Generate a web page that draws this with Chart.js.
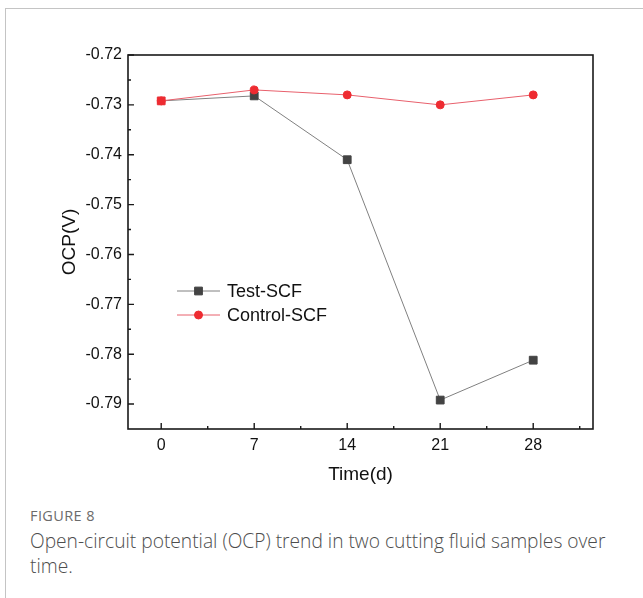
<!DOCTYPE html>
<html>
<head>
<meta charset="utf-8">
<script src="https://cdn.jsdelivr.net/npm/chart.js@4/dist/chart.umd.min.js"></script>
<style>
  html, body { margin: 0; padding: 0; background: #fff; }
  body { width: 643px; height: 598px; position: relative; overflow: hidden; }
  .frame { position: absolute; left: 5px; top: 8px; width: 700px; height: 700px;
           border-top: 1px solid #c4c4c4; border-left: 1px solid #c4c4c4; }
  #wrap { position: absolute; left: 0; top: 0; width: 643px; height: 490px; }
  .figno { position: absolute; left: 30px; top: 506px; font-family: "Open Sans", sans-serif;
           font-size: 14.5px; color: #6b6b6b; letter-spacing: 0.4px; }
  .caption { position: absolute; left: 30px; top: 528px; width: 592px;
             font-family: "Open Sans", sans-serif; font-weight: 300; font-size: 19.2px; line-height: 25px; color: #4d4d4d; }
</style>
</head>
<body>
<div class="frame"></div>
<div id="wrap"><canvas id="chart"></canvas></div>
<div class="figno">FIGURE 8</div>
<div class="caption">Open-circuit potential (OCP) trend in two cutting fluid samples over time.</div>

<script>
// Sampling days and open-circuit potential readings (V)
const days = [0, 7, 14, 21, 28];
const testSCF = [-0.7292, -0.7282, -0.7410, -0.7892, -0.7812];
const controlSCF = [-0.7292, -0.7270, -0.7280, -0.7300, -0.7280];

// Axis tick values
const xTickValues = [0, 7, 14, 21, 28];
const xMinorValues = [3.5, 10.5, 17.5, 24.5, 31.5];
const yTickValues = [-0.72, -0.73, -0.74, -0.75, -0.76, -0.77, -0.78, -0.79];
const yMinorValues = [-0.725, -0.735, -0.745, -0.755, -0.765, -0.775, -0.785];

const FONT = '"Liberation Sans", Arial, sans-serif';
const toPoints = (ys) => days.map((d, i) => ({ x: d, y: ys[i] }));

// Closed frame with inward major/minor ticks
const framePlugin = {
  id: 'frameTicks',
  afterDatasetsDraw(chart) {
    const { ctx, chartArea: a, scales: { x, y } } = chart;
    ctx.save();
    ctx.strokeStyle = '#1a1a1a';
    ctx.lineWidth = 1.6;
    ctx.strokeRect(a.left, a.top, a.right - a.left, a.bottom - a.top);
    ctx.lineWidth = 1.4;
    ctx.beginPath();
    xTickValues.forEach(v => { const px = x.getPixelForValue(v); ctx.moveTo(px, a.bottom); ctx.lineTo(px, a.bottom - 6); });
    xMinorValues.forEach(v => { const px = x.getPixelForValue(v); ctx.moveTo(px, a.bottom); ctx.lineTo(px, a.bottom - 3); });
    yTickValues.forEach(v => { const py = y.getPixelForValue(v); ctx.moveTo(a.left, py); ctx.lineTo(a.left + 6, py); });
    yMinorValues.forEach(v => { const py = y.getPixelForValue(v); ctx.moveTo(a.left, py); ctx.lineTo(a.left + 3, py); });
    ctx.stroke();
    ctx.restore();
  }
};

// Legend drawn inside the plot area
const innerLegend = {
  id: 'innerLegend',
  afterDraw(chart, args, opts) {
    const { ctx } = chart;
    ctx.save();
    chart.data.datasets.forEach((ds, i) => {
      const yy = opts.y + i * opts.gap;
      ctx.strokeStyle = ds.borderColor;
      ctx.lineWidth = 1;
      ctx.beginPath();
      ctx.moveTo(opts.x, yy);
      ctx.lineTo(opts.x + opts.lineLen, yy);
      ctx.stroke();
      const mc = Array.isArray(ds.pointBackgroundColor) ? ds.pointBackgroundColor[1] : ds.pointBackgroundColor;
      ctx.fillStyle = mc;
      ctx.strokeStyle = mc;
      ctx.lineWidth = 1;
      Chart.helpers.drawPoint(ctx, { pointStyle: ds.pointStyle, radius: ds.pointRadius, borderWidth: 1 },
        opts.x + opts.lineLen / 2, yy);
      ctx.fillStyle = '#111';
      ctx.font = '18px ' + FONT;
      ctx.textBaseline = 'middle';
      ctx.textAlign = 'left';
      ctx.fillText(ds.label, opts.x + opts.lineLen + 7, yy + 1);
    });
    ctx.restore();
  }
};

new Chart(document.getElementById('chart'), {
  type: 'line',
  data: {
    datasets: [
      {
        label: 'Test-SCF',
        data: toPoints(testSCF),
        borderColor: '#808080',
        borderWidth: 1,
        pointStyle: 'rect',
        pointRadius: 5.5,
        pointBorderWidth: 1,
        pointBackgroundColor: ['#e8333a', '#434343', '#434343', '#434343', '#434343'],
        pointBorderColor: ['#e8333a', '#434343', '#434343', '#434343', '#434343'],
        order: 2
      },
      {
        label: 'Control-SCF',
        data: toPoints(controlSCF),
        borderColor: '#e8606c',
        borderWidth: 1,
        pointStyle: 'circle',
        pointRadius: 4,
        pointBorderWidth: 1,
        pointBackgroundColor: '#ee2b31',
        pointBorderColor: '#ee2b31',
        order: 1
      }
    ]
  },
  options: {
    responsive: true,
    maintainAspectRatio: false,
    animation: false,
    events: [],
    layout: { padding: { left: 55, right: 50, top: 55, bottom: 0 } },
    plugins: {
      legend: { display: false },
      tooltip: { enabled: false },
      innerLegend: { x: 177, y: 291, gap: 24, lineLen: 43 }
    },
    scales: {
      x: {
        type: 'linear',
        min: -2.5,
        max: 32.5,
        afterBuildTicks: s => { s.ticks = xTickValues.map(v => ({ value: v })); },
        afterFit: s => { s.height = 61; },
        grid: { display: false, drawTicks: false },
        border: { display: false },
        ticks: { font: { family: FONT, size: 16 }, color: '#111', padding: 7, maxRotation: 0 },
        title: { display: true, text: 'Time(d)', font: { family: FONT, size: 19 }, color: '#111', padding: { top: 0, bottom: 4 } }
      },
      y: {
        type: 'linear',
        min: -0.795,
        max: -0.72,
        afterBuildTicks: s => { s.ticks = yTickValues.map(v => ({ value: v })); },
        afterFit: s => { s.width = 73; },
        grid: { display: false, drawTicks: false },
        border: { display: false },
        ticks: { font: { family: FONT, size: 16 }, color: '#111', padding: 6, callback: v => v.toFixed(2) },
        title: { display: true, text: 'OCP(V)', font: { family: FONT, size: 19 }, color: '#111', padding: { top: 3, bottom: 0 } }
      }
    }
  },
  plugins: [framePlugin, innerLegend]
});
</script>
</body>
</html>
